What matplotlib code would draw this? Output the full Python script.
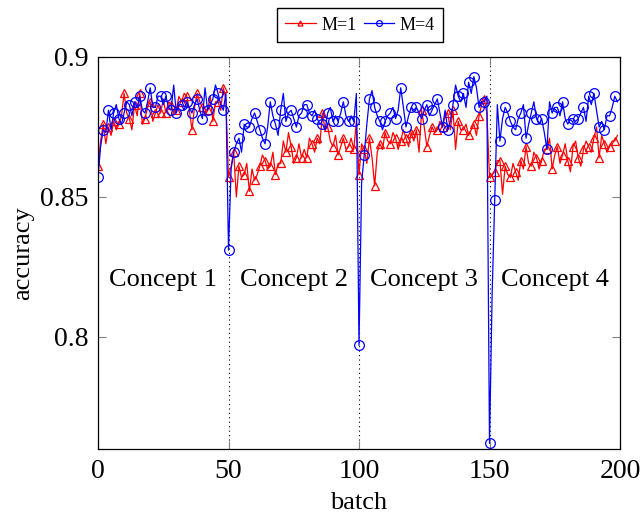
import numpy as np
import matplotlib
matplotlib.use("Agg")
import matplotlib.pyplot as plt

# ---- data ------------------------------------------------------------------
batch = np.arange(200)

acc_m1 = [
    0.861, 0.870, 0.876, 0.869, 0.875, 0.872, 0.877, 0.874, 0.876, 0.879,
    0.887, 0.880, 0.878, 0.874, 0.883, 0.879, 0.887, 0.876, 0.878, 0.882,
    0.884, 0.877, 0.880, 0.883, 0.880, 0.885, 0.880, 0.884, 0.883, 0.880,
    0.881, 0.886, 0.884, 0.887, 0.886, 0.881, 0.874, 0.882, 0.887, 0.884,
    0.882, 0.879, 0.881, 0.886, 0.877, 0.884, 0.884, 0.881, 0.889, 0.885,
    0.857, 0.861, 0.866, 0.850, 0.861, 0.857, 0.858, 0.862, 0.852, 0.860,
    0.856, 0.858, 0.861, 0.865, 0.863, 0.860, 0.861, 0.866, 0.858, 0.862,
    0.862, 0.870, 0.866, 0.873, 0.868, 0.862, 0.864, 0.869, 0.864, 0.867,
    0.864, 0.871, 0.869, 0.866, 0.871, 0.869, 0.880, 0.874, 0.875, 0.870,
    0.868, 0.872, 0.865, 0.868, 0.871, 0.867, 0.868, 0.871, 0.867, 0.877,
    0.858, 0.869, 0.867, 0.862, 0.871, 0.864, 0.854, 0.866, 0.869, 0.867,
    0.873, 0.870, 0.869, 0.873, 0.871, 0.867, 0.870, 0.874, 0.871, 0.868,
    0.873, 0.870, 0.874, 0.866, 0.881, 0.875, 0.868, 0.872, 0.875, 0.873,
    0.874, 0.877, 0.875, 0.879, 0.880, 0.874, 0.881, 0.867, 0.877, 0.874,
    0.874, 0.876, 0.872, 0.874, 0.876, 0.872, 0.879, 0.883, 0.885, 0.880,
    0.857, 0.858, 0.859, 0.863, 0.863, 0.851, 0.861, 0.858, 0.857, 0.862,
    0.859, 0.856, 0.863, 0.860, 0.868, 0.862, 0.861, 0.866, 0.864, 0.860,
    0.863, 0.867, 0.867, 0.871, 0.860, 0.865, 0.868, 0.862, 0.865, 0.869,
    0.863, 0.859, 0.868, 0.870, 0.864, 0.861, 0.867, 0.870, 0.868, 0.866,
    0.871, 0.875, 0.864, 0.872, 0.869, 0.866, 0.868, 0.870, 0.870, 0.872,
]

acc_m4 = [
    0.857, 0.868, 0.874, 0.873, 0.881, 0.874, 0.880, 0.883, 0.878, 0.876,
    0.880, 0.884, 0.883, 0.879, 0.884, 0.882, 0.886, 0.881, 0.880, 0.884,
    0.889, 0.882, 0.882, 0.886, 0.886, 0.883, 0.886, 0.882, 0.881, 0.890,
    0.880, 0.883, 0.883, 0.881, 0.884, 0.882, 0.880, 0.883, 0.885, 0.881,
    0.878, 0.889, 0.881, 0.883, 0.885, 0.890, 0.887, 0.883, 0.881, 0.887,
    0.831, 0.860, 0.866, 0.869, 0.871, 0.866, 0.876, 0.875, 0.875, 0.878,
    0.880, 0.877, 0.874, 0.871, 0.869, 0.875, 0.884, 0.879, 0.876, 0.872,
    0.881, 0.887, 0.877, 0.880, 0.881, 0.878, 0.875, 0.879, 0.880, 0.883,
    0.883, 0.880, 0.879, 0.881, 0.878, 0.876, 0.876, 0.874, 0.880, 0.882,
    0.877, 0.879, 0.877, 0.880, 0.884, 0.879, 0.877, 0.879, 0.877, 0.887,
    0.797, 0.855, 0.865, 0.876, 0.885, 0.888, 0.882, 0.879, 0.877, 0.874,
    0.877, 0.879, 0.880, 0.882, 0.878, 0.881, 0.889, 0.882, 0.875, 0.879,
    0.882, 0.881, 0.882, 0.880, 0.878, 0.881, 0.883, 0.879, 0.881, 0.883,
    0.885, 0.880, 0.875, 0.881, 0.874, 0.877, 0.883, 0.890, 0.886, 0.884,
    0.887, 0.882, 0.891, 0.887, 0.893, 0.889, 0.882, 0.884, 0.884, 0.886,
    0.762, 0.815, 0.849, 0.883, 0.870, 0.878, 0.882, 0.880, 0.877, 0.875,
    0.874, 0.878, 0.880, 0.883, 0.871, 0.876, 0.880, 0.884, 0.878, 0.876,
    0.878, 0.873, 0.867, 0.884, 0.880, 0.882, 0.882, 0.879, 0.884, 0.878,
    0.876, 0.878, 0.878, 0.877, 0.878, 0.880, 0.882, 0.877, 0.886, 0.883,
    0.887, 0.881, 0.875, 0.877, 0.874, 0.879, 0.879, 0.882, 0.886, 0.884,
]

concept_labels = ["Concept 1", "Concept 2", "Concept 3", "Concept 4"]
concept_centers = [25, 75, 125, 175]
drift_points = [50, 100, 150]

# ---- figure ----------------------------------------------------------------
plt.rcParams["font.family"] = ["Liberation Serif", "DejaVu Serif"]

fig = plt.figure(figsize=(6.42, 5.19), dpi=100)
ax = fig.add_axes([98 / 642, 1 - 449 / 519, 522 / 642, 392 / 519])

ax.plot(batch, acc_m1, color="red", lw=0.9, marker="^", markevery=2,
        markersize=6, markerfacecolor="none", markeredgewidth=0.9, label="M=1")
ax.plot(batch, acc_m4, color="blue", lw=0.9, marker="o", markevery=2,
        markersize=7, markerfacecolor="none", markeredgewidth=0.9, label="M=4")

for d in drift_points:
    ax.axvline(d, color="black", lw=0.8, ls=(0, (1, 3)), zorder=0)

for lbl, cx in zip(concept_labels, concept_centers):
    ax.text(cx, 0.8205, lbl, ha="center", va="center", fontsize=19)

ax.set_xlim(0, 200)
ax.set_ylim(0.76, 0.9)
ax.set_xticks([0, 50, 100, 150, 200])
ax.set_yticks([0.8, 0.85, 0.9])
ax.set_yticklabels(["0.8", "0.85", "0.9"])
ax.tick_params(direction="in", length=6, width=0.8, color="0.5",
               top=True, right=True, labelsize=20, pad=7)
for s in ax.spines.values():
    s.set_linewidth(0.9)
ax.set_xlabel("batch", fontsize=19, labelpad=6)
ax.set_ylabel("accuracy", fontsize=19, labelpad=4)

fig.legend(loc="center", bbox_to_anchor=(360 / 642, 1 - 25 / 519), ncol=2,
           fontsize=13, frameon=True, fancybox=False, edgecolor="black",
           framealpha=1, handlelength=1.7, columnspacing=0.4,
           handletextpad=0.3, borderpad=0.45, markerscale=0.6)

fig.savefig("out.png", dpi=100)
